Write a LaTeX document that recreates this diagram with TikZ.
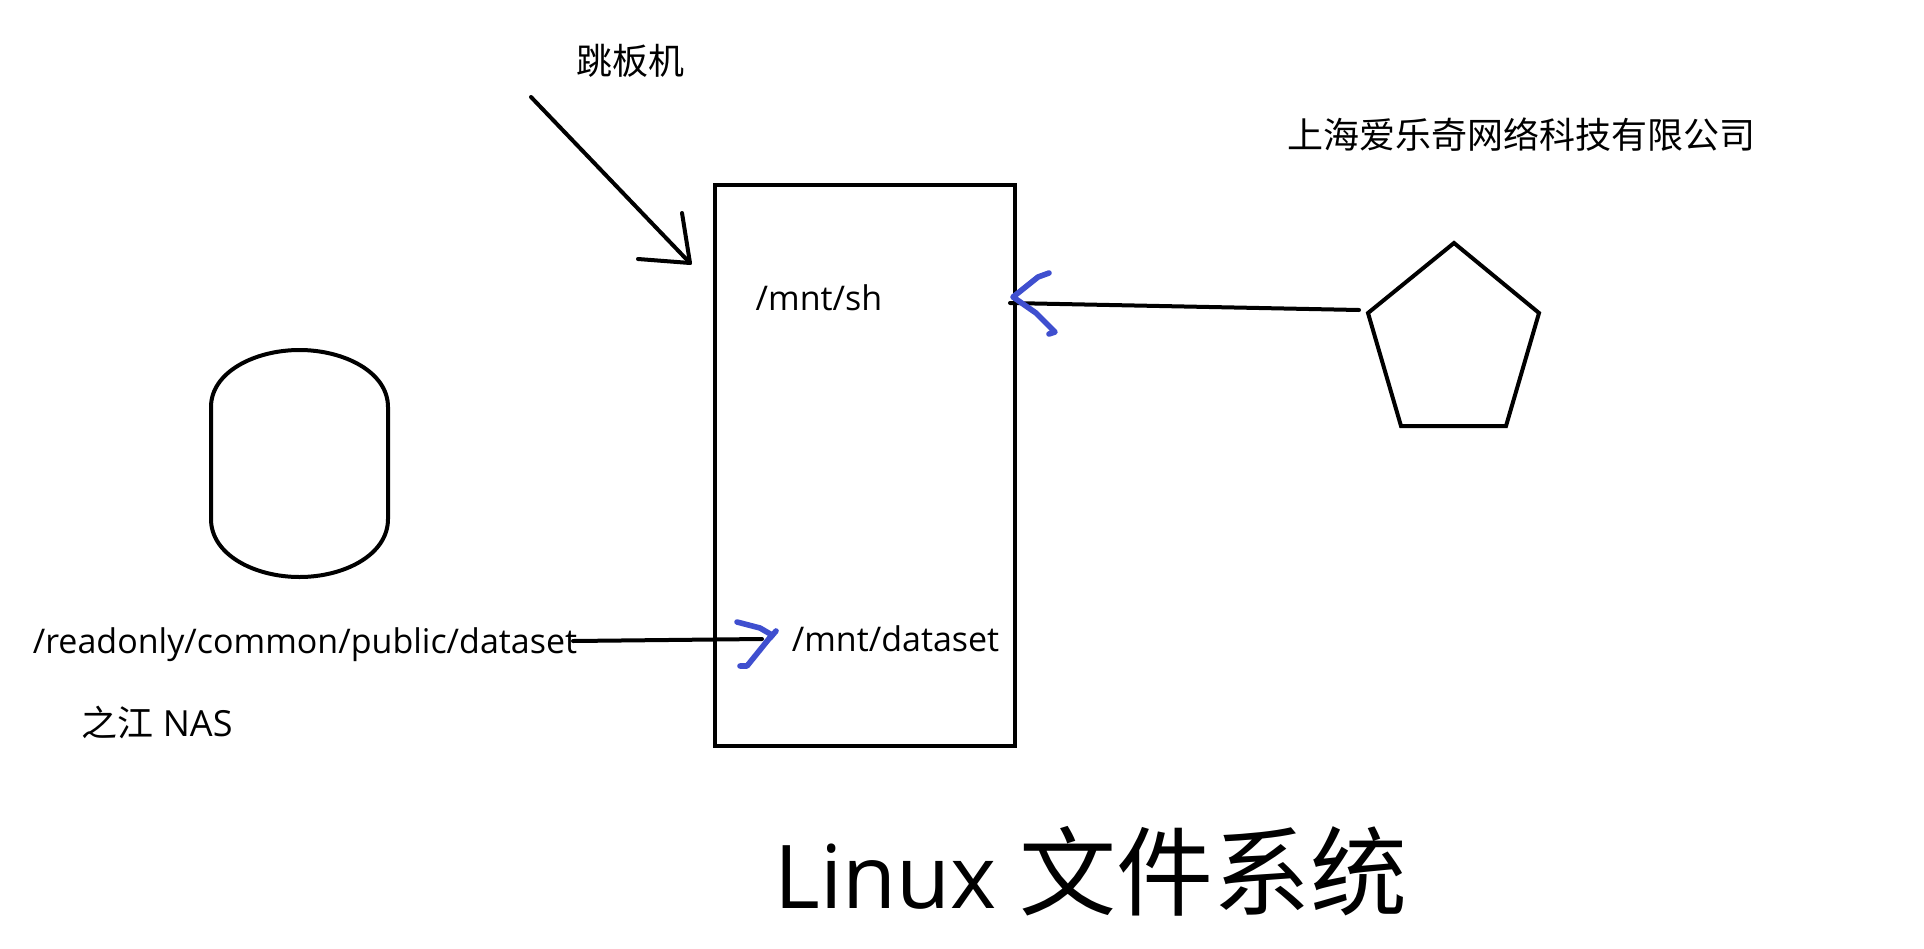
\documentclass[tikz,border=0pt]{standalone}
\usepackage{fontspec}
\setmainfont{Open Sans}
\newfontfamily\cjk{Noto Sans CJK SC}
\definecolor{penblue}{HTML}{3F4FCF}
\tikzset{
  x=1pt,y=-1pt,
  outline/.style={draw=black,line width=4pt,line join=miter},
  inkline/.style={draw=black,line width=4pt,line cap=round,line join=round},
  bluepen/.style={draw=penblue,line width=5.6pt,line cap=round,line join=round},
  label/.style={inner sep=0pt,outer sep=0pt,text=black,font=\fontsize{34}{40}\selectfont},
  cjklabel/.style={inner sep=0pt,outer sep=0pt,text=black,font=\cjk\fontsize{36}{40}\selectfont},
}
\begin{document}
\begin{tikzpicture}
\useasboundingbox[fill=white] (0,0) rectangle (1924,948);
% main box
\node[outline,minimum width=300pt,minimum height=561pt,inner sep=0pt,anchor=north west] (box) at (712.5,182.5) {};
% cylinder
\draw[outline] (211,407) .. controls (211,372) and (255,350) .. (299.5,350)
  .. controls (344,350) and (388,372) .. (388,407) -- (388,519)
  .. controls (388,555) and (344,577) .. (299.5,577)
  .. controls (255,577) and (211,555) .. (211,519) -- cycle;
% pentagon
\coordinate (p1) at (1454,243);
\coordinate (p2) at (1539,313);
\coordinate (p3) at (1506,426);
\coordinate (p4) at (1401,426);
\coordinate (p5) at (1368,313);
\draw[outline] (p1) -- (p2) -- (p3) -- (p4) -- (p5) -- cycle;
% labels
\node[cjklabel] (jump) at (630,61) {跳板机};
\node[cjklabel] (company) at (1521,135) {上海爱乐奇网络科技有限公司};
\node[label] (sh) at (819,298) {/mnt/sh};
\node[label] (ds) at (895.5,639) {/mnt/dataset};
\node[label] (ro) at (305,645) {/readonly/common/public/dataset};
\node[inner sep=0pt,outer sep=0pt,text=black,font=\fontsize{36}{40}\selectfont] (nas) at (157,722) {{\cjk 之江} NAS};
\node[inner sep=0pt,outer sep=0pt,text=black,font=\fontsize{88}{100}\selectfont] (title) at (1091,871) {Linux {\cjk\fontsize{97}{100}\selectfont 文件系统}};
% jump arrow
\coordinate (j0) at (531,97);
\coordinate (j1) at (690,263);
\coordinate (ja) at (682,213);
\coordinate (jb) at (638,259);
\draw[inkline] (j0) -- (j1);
\draw[inkline] (ja) -- (j1) -- (jb);
% right arrow
\coordinate (r0) at (1359,310);
\coordinate (r1) at (1010,303);
\draw[inkline] (r0) -- (r1);
\draw[bluepen] (1049,273) -- (1038,277) -- (1013,297) -- (1036,313) -- (1055,332) -- (1049,334);
% left arrow
\coordinate (l0) at (573,641);
\coordinate (l1) at (762,639);
\draw[inkline] (l0) -- (l1);
\draw[bluepen] (737,622) -- (760,628) -- (772,635) -- (747,666) -- (740,666);
\draw[bluepen] (776,631) -- (770,638);
\end{tikzpicture}
\end{document}
